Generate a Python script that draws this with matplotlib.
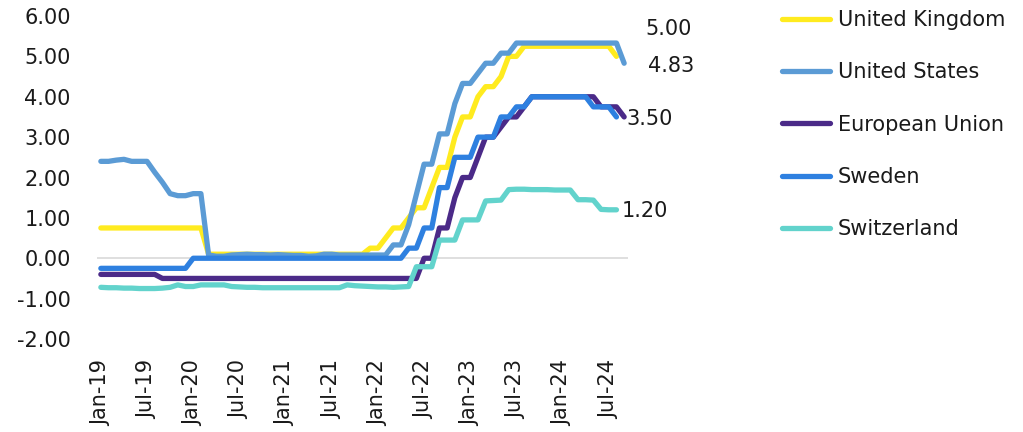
import matplotlib
matplotlib.use("Agg")
import matplotlib.pyplot as plt

plt.rcParams['font.family'] = ['DejaVu Sans']
plt.rcParams['axes.unicode_minus'] = False

# Monthly observations, Jan-19 onwards (index 0 = Jan-19)
tick_labels = ["Jan-19", "Jul-19", "Jan-20", "Jul-20", "Jan-21", "Jul-21",
               "Jan-22", "Jul-22", "Jan-23", "Jul-23", "Jan-24", "Jul-24"]

uk = ([0.75] * 14 + [0.10] * 21 +
      [0.25, 0.25, 0.50, 0.75, 0.75, 1.00, 1.25, 1.25, 1.75, 2.25, 2.25, 3.00,
       3.50, 3.50, 4.00, 4.25, 4.25, 4.50, 5.00, 5.00] +
      [5.25] * 12 + [5.00])

us = ([2.40, 2.40, 2.43, 2.45, 2.40, 2.40, 2.40, 2.13, 1.88, 1.60, 1.55, 1.55,
       1.60, 1.60, 0.08,
       0.05, 0.05, 0.08, 0.09, 0.10, 0.09, 0.09, 0.08, 0.09,
       0.08, 0.07, 0.07, 0.05, 0.06, 0.10, 0.10, 0.08, 0.08, 0.08, 0.08, 0.08,
       0.08, 0.08,
       0.33, 0.33, 0.83, 1.58, 2.33, 2.33, 3.08, 3.08, 3.83, 4.33,
       4.33, 4.58, 4.83, 4.83, 5.08, 5.08, 5.33] +
      [5.33] * 13 + [4.83])

eu = ([-0.40] * 8 + [-0.50] * 34 +
      [0.00, 0.00, 0.75, 0.75, 1.50, 2.00, 2.00, 2.50, 3.00, 3.00, 3.25, 3.50,
       3.50, 3.75] +
      [4.00] * 9 + [3.75, 3.75, 3.75, 3.50])

sweden = ([-0.25] * 12 + [0.00] * 28 +
          [0.25, 0.25, 0.75, 0.75, 1.75, 1.75, 2.50, 2.50, 2.50, 3.00, 3.00,
           3.00, 3.50, 3.50, 3.75, 3.75] +
          [4.00] * 8 + [3.75, 3.75, 3.75, 3.50])

switzerland = [-0.72, -0.73, -0.73, -0.74, -0.74, -0.75, -0.75, -0.75, -0.74,
               -0.72, -0.66, -0.70, -0.70, -0.66, -0.66, -0.66, -0.66, -0.70,
               -0.71, -0.72, -0.72, -0.73, -0.73, -0.73, -0.73, -0.73, -0.73,
               -0.73, -0.73, -0.73, -0.73, -0.73, -0.66, -0.68, -0.69, -0.70,
               -0.71, -0.71, -0.72, -0.71, -0.70, -0.21, -0.21, -0.21, 0.45,
               0.45, 0.45, 0.95, 0.95, 0.95, 1.42, 1.43, 1.44, 1.70, 1.71,
               1.71, 1.70, 1.70, 1.70, 1.69, 1.69, 1.69, 1.45, 1.45, 1.44,
               1.21, 1.20, 1.20]

series_names = ["United Kingdom", "United States", "European Union", "Sweden",
                "Switzerland"]
series_values = [uk, us, eu, sweden, switzerland]
colors = ["#FFEB1F", "#5B9BD5", "#4B2A88", "#2E80E0", "#62D3CC"]

end_labels = {"United Kingdom": "5.00", "United States": "4.83",
              "European Union": "3.50", "Switzerland": "1.20"}
label_offsets = {"United Kingdom": (21, 19.5), "United States": (17, -2.0),
                 "European Union": (1.5, -1.5), "Switzerland": (3.5, -0.8)}

text_color = "#1a1a1a"
fs = 15

fig = plt.figure(figsize=(10.23, 4.32), dpi=100)
ax = fig.add_axes([97 / 1023, 1 - 339 / 432, (628 - 97) / 1023, (339 - 16) / 432])

ax.axhline(0, color="#D9D9D9", lw=1.2, zorder=0.5)

for name, vals, c in zip(series_names, series_values, colors):
    xs = list(range(len(vals)))
    ax.plot(xs, vals, color=c, lw=3.8, solid_capstyle="round",
            solid_joinstyle="round", label=name)
    if name in end_labels:
        ax.annotate(end_labels[name], xy=(xs[-1], vals[-1]),
                    xytext=label_offsets[name], textcoords="offset points",
                    ha="left", va="center", fontsize=fs, color=text_color)

ax.set_xlim(-0.5, 68.5)
ax.set_ylim(-2, 6)
ax.set_yticks(range(-2, 7))
ax.set_yticklabels([f"{v:.2f}" for v in range(-2, 7)])
ax.set_xticks(range(0, 6 * len(tick_labels), 6))
ax.set_xticklabels(tick_labels, rotation=90)
ax.tick_params(axis="y", length=0, pad=19, labelsize=fs, labelcolor=text_color)
ax.tick_params(axis="x", length=0, pad=15, labelsize=fs, labelcolor=text_color)
for s in ax.spines.values():
    s.set_visible(False)

fig.legend(loc="upper left", bbox_to_anchor=(782 / 1023, 1 - 10 / 432),
           frameon=False, fontsize=fs, handlelength=2.3, handletextpad=0.38,
           labelspacing=1.55, borderpad=0, borderaxespad=0,
           labelcolor=text_color)

fig.savefig("out.png", dpi=100)
